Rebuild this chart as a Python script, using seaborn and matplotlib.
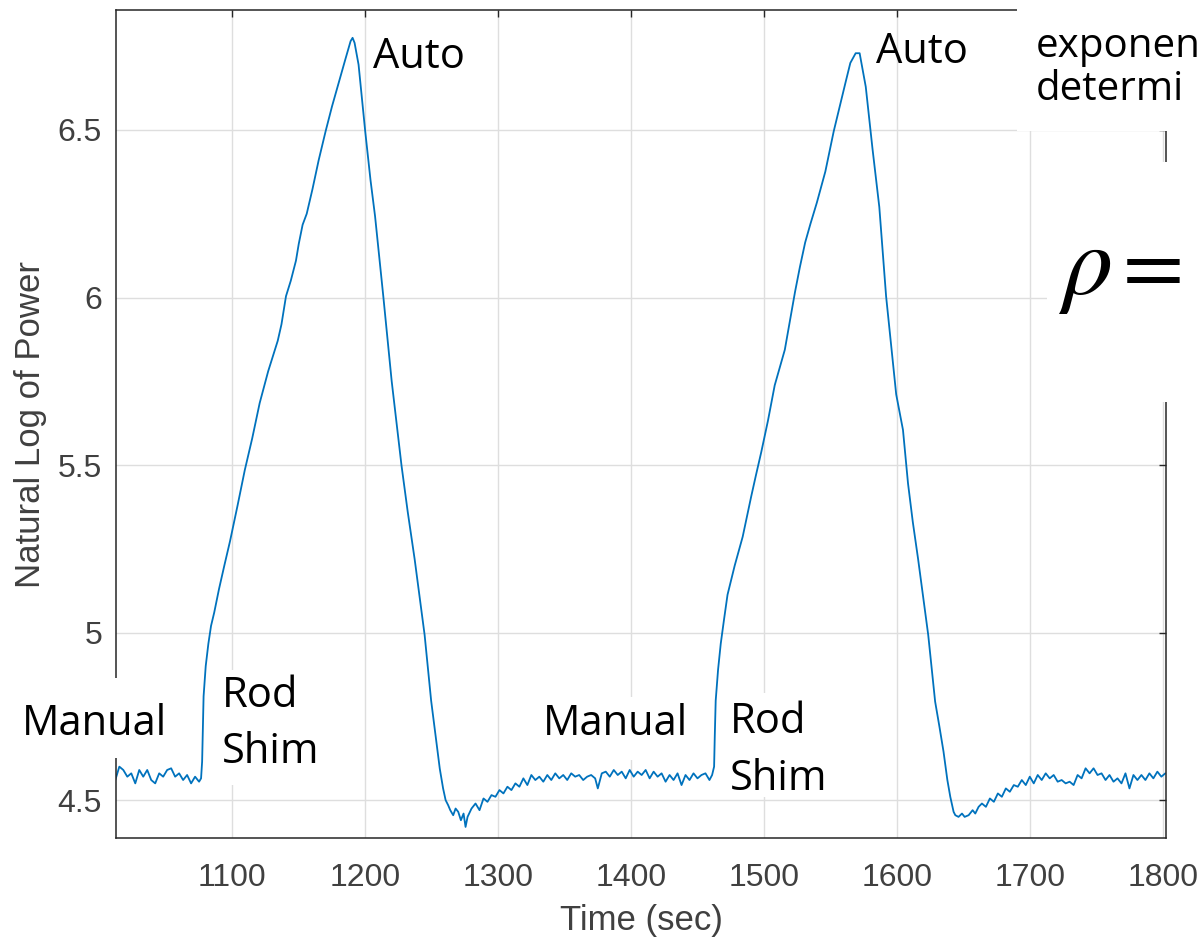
import numpy as np
import pandas as pd
import matplotlib
matplotlib.use('Agg')
import matplotlib.pyplot as plt
from matplotlib.patches import Rectangle
import seaborn as sns

# --- data, segment by segment ---
# manual control before the first rod shim
t_manual_1 = [1012, 1015, 1018, 1021, 1024, 1027, 1030, 1033, 1036, 1039, 1042, 1045,
              1048, 1051, 1054, 1057, 1060, 1063, 1066, 1069, 1072, 1075, 1076.5]
p_manual_1 = [4.560, 4.600, 4.590, 4.570, 4.580, 4.550, 4.590, 4.570, 4.590, 4.560, 4.550, 4.580,
              4.570, 4.590, 4.595, 4.570, 4.580, 4.560, 4.575, 4.550, 4.570, 4.555, 4.565]

# first rod shim up to the peak, then auto control down
t_cycle_1 = [1077.3, 1078.4, 1080, 1082, 1084, 1086.4, 1090, 1094, 1098.3, 1104, 1109.4, 1115,
             1120.6, 1127, 1134.2, 1137, 1140.4, 1144, 1147.9, 1150, 1152.9, 1156, 1160.3, 1165,
             1170.2, 1175, 1180.1, 1185, 1189, 1190.5, 1192, 1195, 1200, 1204, 1207.4, 1213.6,
             1219.9, 1227.3, 1232, 1237.2, 1244.7, 1249.6, 1253, 1256.1, 1258.6, 1260.5, 1262.4,
             1264, 1266.2, 1268, 1270, 1272, 1274, 1275.5, 1277]
p_cycle_1 = [4.615, 4.810, 4.900, 4.967, 5.020, 5.060, 5.130, 5.200, 5.273, 5.380, 5.485, 5.580,
             5.685, 5.780, 5.871, 5.920, 6.004, 6.050, 6.110, 6.160, 6.217, 6.250, 6.323, 6.410,
             6.496, 6.570, 6.642, 6.710, 6.765, 6.775, 6.760, 6.695, 6.496, 6.350, 6.243, 6.004,
             5.751, 5.499, 5.360, 5.219, 4.993, 4.797, 4.690, 4.594, 4.535, 4.500, 4.485,
             4.470, 4.455, 4.475, 4.465, 4.440, 4.460, 4.420, 4.450]

# recovery and manual control before the second rod shim
t_manual_2 = [1280, 1283, 1286, 1289, 1292, 1295, 1298, 1301, 1304, 1307, 1310, 1313, 1316,
              1319, 1322, 1325, 1328, 1331, 1334, 1337, 1340, 1343, 1346, 1349, 1352, 1355,
              1358, 1361, 1364, 1367, 1370, 1373, 1375, 1378, 1381, 1384, 1387, 1390, 1393,
              1396, 1399, 1402, 1405, 1408, 1411, 1414, 1417, 1420, 1423, 1426, 1429, 1432,
              1435, 1438, 1441, 1444, 1447, 1450, 1453, 1456, 1459, 1461]
p_manual_2 = [4.475, 4.490, 4.470, 4.505, 4.495, 4.515, 4.510, 4.530, 4.520, 4.540, 4.530, 4.550, 4.540,
              4.565, 4.545, 4.575, 4.560, 4.570, 4.555, 4.575, 4.560, 4.580, 4.565, 4.575, 4.560, 4.580,
              4.570, 4.575, 4.560, 4.570, 4.575, 4.565, 4.535, 4.580, 4.585, 4.570, 4.590, 4.575, 4.585,
              4.565, 4.590, 4.570, 4.585, 4.575, 4.590, 4.565, 4.585, 4.570, 4.580, 4.555, 4.575, 4.560,
              4.580, 4.545, 4.575, 4.560, 4.580, 4.565, 4.575, 4.580, 4.560, 4.575]

# second rod shim and auto control
t_cycle_2 = [1462.5, 1463, 1463.7, 1465.5, 1467.5, 1470, 1472.6, 1478, 1484, 1490.4, 1494, 1498,
             1503, 1508.1, 1515.7, 1520, 1523.4, 1527, 1531, 1535, 1539.8, 1546.2, 1552.5, 1557,
             1561.4, 1565, 1569, 1572, 1576.6, 1581.7, 1586.8, 1591.9, 1595.7, 1599.5, 1604.6,
             1608.4, 1612, 1616, 1620, 1623.6, 1628.8, 1632, 1635.1, 1638, 1640.2, 1642.7, 1644,
             1646.4, 1649, 1651, 1654, 1657, 1659, 1661.5]
p_cycle_2 = [4.600, 4.690, 4.797, 4.890, 4.967, 5.040, 5.113, 5.200, 5.286, 5.406, 5.470, 5.539,
             5.632, 5.738, 5.844, 5.940, 6.017, 6.090, 6.164, 6.220, 6.283, 6.376, 6.496, 6.570,
             6.642, 6.700, 6.729, 6.729, 6.629, 6.443, 6.270, 6.004, 5.858, 5.711, 5.605,
             5.445, 5.330, 5.219, 5.100, 4.993, 4.794, 4.720, 4.645, 4.560, 4.510, 4.465, 4.455,
             4.450, 4.460, 4.450, 4.455, 4.470, 4.460, 4.480]

# recovery to the end of the record
t_manual_3 = [1664, 1667, 1670, 1673, 1676, 1679, 1682, 1685, 1688, 1691, 1694, 1697, 1700,
              1703, 1706, 1709, 1712, 1715, 1718, 1721, 1724, 1727, 1730, 1733, 1736, 1739,
              1742, 1745, 1748, 1751, 1754, 1757, 1760, 1763, 1766, 1769, 1772, 1775, 1778,
              1781, 1784, 1787, 1790, 1793, 1796, 1799, 1802]
p_manual_3 = [4.490, 4.480, 4.505, 4.495, 4.520, 4.510, 4.535, 4.525, 4.545, 4.540, 4.560, 4.545, 4.570,
              4.550, 4.575, 4.560, 4.580, 4.565, 4.575, 4.555, 4.560, 4.550, 4.555, 4.545, 4.575, 4.565,
              4.595, 4.580, 4.595, 4.575, 4.580, 4.560, 4.575, 4.555, 4.565, 4.550, 4.580, 4.535, 4.575,
              4.560, 4.575, 4.560, 4.580, 4.565, 4.585, 4.570, 4.580]

x_ticks = [1100, 1200, 1300, 1400, 1500, 1600, 1700, 1800]
y_ticks = [4.5, 5, 5.5, 6, 6.5]
y_tick_labels = ['4.5', '5', '5.5', '6', '6.5']

df = pd.DataFrame({
    'time': np.concatenate([t_manual_1, t_cycle_1, t_manual_2, t_cycle_2, t_manual_3]),
    'ln_power': np.concatenate([p_manual_1, p_cycle_1, p_manual_2, p_cycle_2, p_manual_3]),
})

sns.set_theme(style='whitegrid')
plt.rcParams['font.family'] = ['Liberation Sans', 'DejaVu Sans']
plt.rcParams['mathtext.fontset'] = 'stix'

W, H = 1201, 941
fig = plt.figure(figsize=(W / 100, H / 100), dpi=100)
fig.patch.set_facecolor('white')
ax = fig.add_axes([116 / W, 1 - 838 / H, (1166 - 116) / W, (838 - 10) / H])

sns.lineplot(data=df, x='time', y='ln_power', ax=ax, color='#0072BD',
             linewidth=1.3, estimator=None, sort=False)

ax.set_xlim(1012.5, 1802.5)
ax.set_ylim(4.387, 6.858)
ax.set_xticks(x_ticks)
ax.set_yticks(y_ticks)
ax.set_yticklabels(y_tick_labels)
ax.set_facecolor('white')
ax.grid(True, color='#dedede', linewidth=1.0)
for s in ax.spines.values():
    s.set_color('#262626')
    s.set_linewidth(1.1)
    s.set_visible(True)
ax.tick_params(direction='in', length=5, width=1.0, color='#262626',
               top=True, right=True, labelsize=23, labelcolor='#404040')
ax.tick_params(axis='x', pad=18)
ax.tick_params(axis='y', pad=10)
ax.set_xlabel('Time (sec)', fontsize=25, color='#404040', labelpad=8)
ax.set_ylabel('Natural Log of Power', fontsize=25, color='#404040', labelpad=8)


# white slide boxes sitting on top of the chart
def cover(x0, y0, x1, y1):
    fig.patches.append(Rectangle((x0 / W, 1 - y1 / H), (x1 - x0) / W, (y1 - y0) / H,
                                 transform=fig.transFigure, facecolor='white',
                                 edgecolor='none', zorder=5))


def note(x, y, s, **kw):
    kw.setdefault('fontsize', 30)
    kw.setdefault('family', ['Open Sans', 'DejaVu Sans'])
    fig.text(x / W, 1 - y / H, s, va='baseline', ha='left', color='black', zorder=6, **kw)


cover(1017, 0, W, 131)
cover(1047, 162, W, 402)
cover(0, 678, 185, 758)
cover(214, 670, 330, 785)
cover(535, 697, 697, 760)
cover(722, 693, 830, 797)

note(22, 735, 'Manual')
note(222, 707, 'Rod')
note(222, 763, 'Shim')
note(543, 735, 'Manual')
note(730, 733, 'Rod')
note(730, 790, 'Shim')
note(373, 68, 'Auto')
note(876, 63, 'Auto')
note(1036, 57, 'exponen', fontsize=29)
note(1036, 100, 'determi', fontsize=29)
note(1058, 294, r'$\rho$', fontsize=72)
note(1110, 292, r'$=$', fontsize=64)

fig.savefig('out.png', dpi=100, facecolor='white')
